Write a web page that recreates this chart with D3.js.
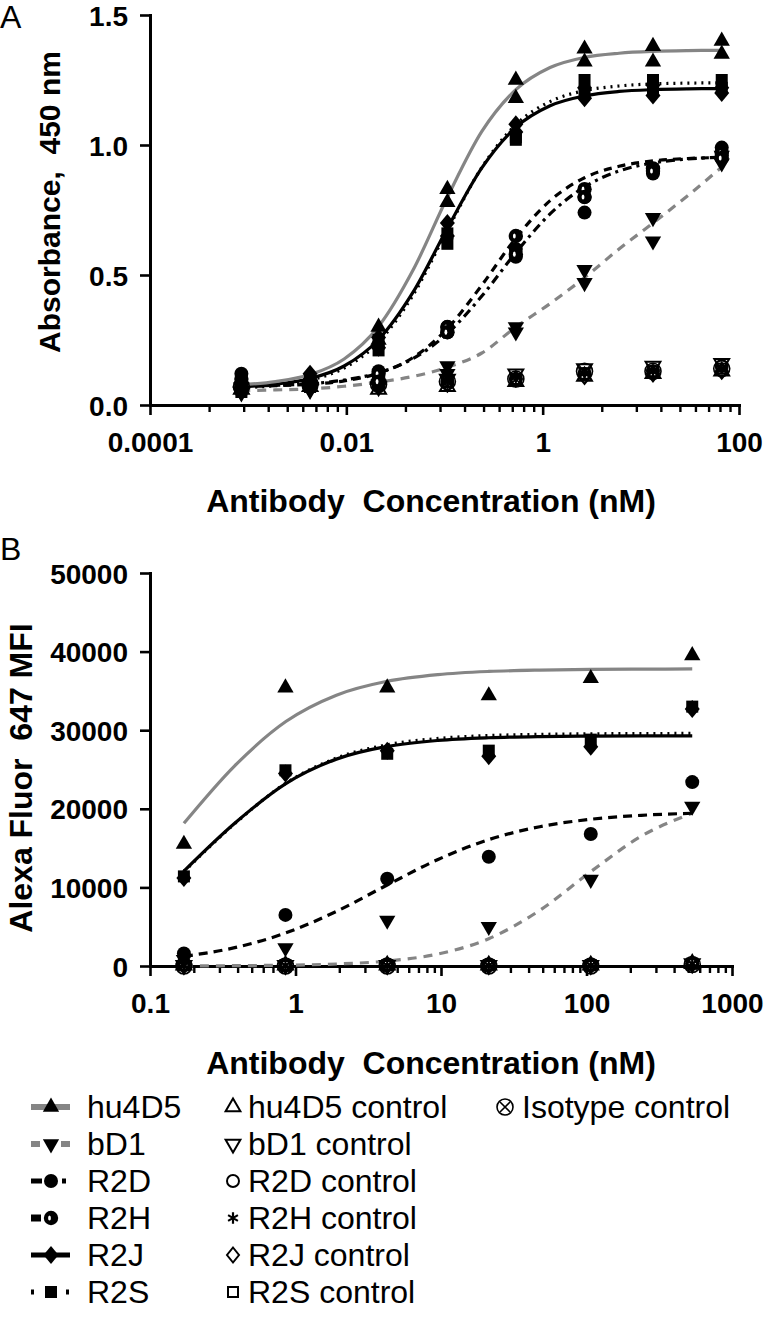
<!DOCTYPE html>
<html><head><meta charset="utf-8">
<script src="https://cdn.jsdelivr.net/npm/d3@7"></script>
<style>body{margin:0;background:#fff}svg{display:block}</style>
</head><body><svg id="c" width="766" height="1320"></svg>
<script>
// ---------- DATA ----------
// Panel A: ELISA, antibody concentration (nM)
const concA = [0.000853, 0.00427, 0.0213, 0.107, 0.533, 2.67, 13.3, 66.7];
const hu4D5_A1 = [0.10, 0.11, 0.30, 0.83, 1.25, 1.37, 1.38, 1.40];
const hu4D5_A2 = [0.06, 0.08, 0.25, 0.78, 1.18, 1.32, 1.32, 1.35];
const bD1_A1 = [0.07, 0.07, 0.08, 0.15, 0.30, 0.52, 0.72, 0.96];
const bD1_A2 = [0.05, 0.06, 0.07, 0.12, 0.28, 0.47, 0.63, 0.93];
const R2D_A1 = [0.12, 0.08, 0.13, 0.30, 0.60, 0.80, 0.90, 0.99];
const R2D_A2 = [0.08, 0.07, 0.10, 0.28, 0.57, 0.74, 0.89, 0.96];
const R2H_A1 = [0.10, 0.09, 0.12, 0.30, 0.65, 0.83, 0.91, 0.97];
const R2H_A2 = [0.07, 0.07, 0.09, 0.28, 0.58, 0.80, 0.90, 0.95];
const R2J_A1 = [0.08, 0.12, 0.26, 0.70, 1.08, 1.22, 1.23, 1.22];
const R2J_A2 = [0.06, 0.08, 0.22, 0.65, 1.05, 1.18, 1.19, 1.20];
const R2S_A1 = [0.07, 0.10, 0.25, 0.66, 1.03, 1.25, 1.25, 1.25];
const R2S_A2 = [0.05, 0.07, 0.21, 0.62, 1.02, 1.20, 1.21, 1.22];
const hu4D5ctl_A = [0.06, 0.07, 0.06, 0.07, 0.09, 0.11, 0.12, 0.13];
const bD1ctl_A = [0.05, 0.06, 0.07, 0.10, 0.12, 0.14, 0.15, 0.16];
const R2Dctl_A = [0.07, 0.08, 0.08, 0.09, 0.10, 0.12, 0.13, 0.15];
const R2Hctl_A = [0.07, 0.07, 0.08, 0.09, 0.11, 0.12, 0.13, 0.14];
const R2Jctl_A = [0.06, 0.07, 0.07, 0.08, 0.10, 0.11, 0.12, 0.13];
const R2Sctl_A = [0.06, 0.07, 0.08, 0.09, 0.10, 0.12, 0.13, 0.14];
const iso_A = [0.07, 0.08, 0.08, 0.09, 0.10, 0.13, 0.13, 0.14];
// Panel A fitted curves, read at these concentrations
const curveConcA = [0.00085, 0.0019, 0.0043, 0.0095, 0.0213, 0.048, 0.107, 0.24, 0.533, 1.19, 2.67, 6, 13.3, 30, 66.7];
const hu4D5_fitA = [0.078, 0.090, 0.117, 0.177, 0.302, 0.520, 0.799, 1.052, 1.213, 1.298, 1.337, 1.353, 1.360, 1.363, 1.364];
const bD1_fitA = [0.055, 0.058, 0.062, 0.072, 0.088, 0.110, 0.145, 0.200, 0.300, 0.390, 0.490, 0.600, 0.700, 0.805, 0.915];
const R2D_fitA = [0.073, 0.076, 0.082, 0.096, 0.124, 0.179, 0.275, 0.419, 0.586, 0.735, 0.839, 0.900, 0.931, 0.946, 0.953];
const R2H_fitA = [0.072, 0.074, 0.080, 0.093, 0.122, 0.183, 0.294, 0.461, 0.642, 0.786, 0.874, 0.918, 0.939, 0.948, 0.952];
const R2J_fitA = [0.071, 0.080, 0.102, 0.150, 0.252, 0.435, 0.680, 0.912, 1.068, 1.151, 1.189, 1.206, 1.213, 1.216, 1.217];
const R2S_fitA = [0.066, 0.075, 0.096, 0.142, 0.242, 0.424, 0.672, 0.914, 1.078, 1.167, 1.209, 1.227, 1.235, 1.238, 1.239];

// Panel B: flow cytometry MFI
const concB = [0.171, 0.853, 4.27, 21.3, 107, 533];
const hu4D5_B = [15500, 35400, 35400, 34400, 36600, 39500];
const bD1_B = [800, 2300, 5800, 5000, 11000, 20300];
const R2D_B = [1600, 6500, 11100, 13900, 16800, 23400];
const R2J_B = [11200, 24500, 27400, 26700, 27900, 32700];
const R2S_B = [11400, 24900, 27000, 27400, 28800, 33000];
const ctl_B = [100, 100, 100, 100, 100, 300];
const iso_B = [0, 0, 0, 0, 0, 200];
const curveConcB = [0.171, 0.382, 0.858, 1.91, 4.27, 9.54, 21.3, 47.7, 107, 238, 533];
const hu4D5_fitB = [18150, 25470, 31100, 34460, 36230, 37080, 37475, 37650, 37735, 37770, 37790];
const bD1_fitB = [16, 40, 102, 255, 631, 1524, 3474, 7073, 12002, 16513, 19444];
const R2D_fitB = [1232, 2333, 4208, 6946, 10305, 13557, 16080, 17720, 18668, 19172, 19434];
const R2J_fitB = [12070, 18160, 23210, 26320, 27940, 28700, 29040, 29190, 29250, 29280, 29290];
const R2S_fitB = [12000, 18100, 23250, 26450, 28150, 28950, 29320, 29470, 29540, 29570, 29590];

// Axes ticks
const yTicksA = [0, 0.5, 1.0, 1.5];
const yLabelsA = ["0.0", "0.5", "1.0", "1.5"];
const xTicksA = [0.0001, 0.01, 1, 100];
const xLabelsA = ["0.0001", "0.01", "1", "100"];
const yTicksB = [0, 10000, 20000, 30000, 40000, 50000];
const xTicksB = [0.1, 1, 10, 100, 1000];
const xLabelsB = ["0.1", "1", "10", "100", "1000"];

const legendMain = ["hu4D5", "bD1", "R2D", "R2H", "R2J", "R2S"];
const legendCtl = ["hu4D5 control", "bD1 control", "R2D control", "R2H control", "R2J control", "R2S control"];
const legendIso = "Isotype control";

// ---------- DRAWING ----------
const FONT = '"Liberation Sans", Arial, Helvetica, sans-serif';
const GRAY = "#858585";
const svg = d3.select("#c");

function symbolAt(g, shape, cx, cy) {
  const s = g.append("g").attr("transform", `translate(${cx},${cy})`);
  switch (shape) {
    case "triUp":
      s.append("path").attr("d", d3.symbol(d3.symbolTriangle, 115)()).attr("fill", "#000");
      break;
    case "triDown":
      s.append("path").attr("d", d3.symbol(d3.symbolTriangle, 115)()).attr("transform", "rotate(180)").attr("fill", "#000");
      break;
    case "circle":
      s.append("circle").attr("r", 7).attr("fill", "#000");
      break;
    case "circleH":
      s.append("circle").attr("r", 7.2).attr("fill", "#000");
      s.append("ellipse").attr("cx", -1.5).attr("rx", 1.4).attr("ry", 2.6).attr("fill", "#fff");
      break;
    case "diamond":
      s.append("path").attr("d", "M0,-9L7.5,0L0,9L-7.5,0Z").attr("fill", "#000");
      break;
    case "square":
      s.append("rect").attr("x", -6).attr("y", -6).attr("width", 12).attr("height", 12).attr("fill", "#000");
      break;
    case "oTriUp":
      s.append("path").attr("d", d3.symbol(d3.symbolTriangle, 95)()).attr("fill", "none").attr("stroke", "#000").attr("stroke-width", 2);
      break;
    case "oTriDown":
      s.append("path").attr("d", d3.symbol(d3.symbolTriangle, 95)()).attr("transform", "rotate(180)").attr("fill", "none").attr("stroke", "#000").attr("stroke-width", 2);
      break;
    case "oCircle":
      s.append("circle").attr("r", 6).attr("fill", "none").attr("stroke", "#000").attr("stroke-width", 2);
      break;
    case "asterisk":
      s.append("path").attr("d", d3.symbol(d3.symbolAsterisk, 90)()).attr("fill", "none").attr("stroke", "#000").attr("stroke-width", 2.2);
      break;
    case "oDiamond":
      s.append("path").attr("d", "M0,-7.5L6,0L0,7.5L-6,0Z").attr("fill", "none").attr("stroke", "#000").attr("stroke-width", 2);
      break;
    case "oSquare":
      s.append("rect").attr("x", -5).attr("y", -5).attr("width", 10).attr("height", 10).attr("fill", "none").attr("stroke", "#000").attr("stroke-width", 2);
      break;
    case "circleX":
      s.append("circle").attr("r", 8).attr("fill", "none").attr("stroke", "#000").attr("stroke-width", 1.6);
      s.append("path").attr("d", "M-5,-5L5,5M5,-5L-5,5").attr("stroke", "#000").attr("stroke-width", 1.6);
      break;
  }
}

function axisStyle(g) {
  g.attr("font-family", FONT).attr("font-size", 28).attr("font-weight", "bold");
  g.select(".domain").attr("stroke", "#000").attr("stroke-width", 3).attr("stroke-linecap", "square");
  g.selectAll(".tick line").attr("stroke", "#000").attr("stroke-width", 2.6);
  g.selectAll(".tick text").attr("fill", "#000");
}

function drawPanel(cfg) {
  const g = svg.append("g");
  const {x, y} = cfg;
  // y axis
  const ya = g.append("g").attr("transform", `translate(${x.range()[0]},0)`)
    .call(d3.axisLeft(y).tickValues(cfg.yTicks).tickSize(10).tickPadding(12).tickSizeOuter(0)
      .tickFormat((d, i) => cfg.yLabels[i]));
  axisStyle(ya);
  ya.selectAll(".tick text").attr("dy", "0.36em");
  // x axis major
  const xa = g.append("g").attr("transform", `translate(0,${y.range()[0]})`)
    .call(d3.axisBottom(x).tickValues(cfg.xTicks).tickSize(10).tickPadding(17).tickSizeOuter(0)
      .tickFormat((d, i) => cfg.xLabels[i]));
  axisStyle(xa);
  // x axis minor
  const xm = g.append("g").attr("transform", `translate(0,${y.range()[0]})`)
    .call(d3.axisBottom(x).tickValues(cfg.xMinor).tickSize(7).tickFormat(""));
  xm.select(".domain").remove();
  xm.selectAll(".tick line").attr("stroke", "#000").attr("stroke-width", 2.4);

  // curves
  const line = d3.line().x(d => x(d[0])).y(d => y(d[1])).curve(d3.curveMonotoneX);
  cfg.curves.forEach(c => {
    g.append("path").datum(cfg.curveX.map((cx, i) => [cx, c.v[i]]))
      .attr("d", line).attr("fill", "none").attr("stroke", c.color)
      .attr("stroke-width", c.w || 3.2).attr("stroke-dasharray", c.dash || null);
  });
  // points
  cfg.points.forEach(p => {
    cfg.conc.forEach((cx, i) => symbolAt(g, p.shape, x(cx), y(p.v[i])));
  });
  // titles
  g.append("text").attr("x", 431).attr("y", cfg.xTitleY).attr("text-anchor", "middle")
    .attr("font-family", FONT).attr("font-size", 32).attr("font-weight", "bold")
    .style("white-space", "pre").text("Antibody  Concentration (nM)");
  g.append("text").attr("transform", `translate(${cfg.yTitleX},${cfg.yTitleY}) rotate(-90)`)
    .attr("text-anchor", "middle").attr("font-family", FONT).attr("font-size", cfg.yTitleSize).attr("font-weight", "bold")
    .style("white-space", "pre").text(cfg.yTitle);
  g.append("text").attr("x", 0).attr("y", cfg.labelY).attr("font-family", FONT).attr("font-size", 32)
    .text(cfg.label);
}

const xA = d3.scaleLog().domain([1e-4, 100]).range([150, 739]);
const yA = d3.scaleLinear().domain([0, 1.5]).range([405, 15]);
const minorA = [];
xTicksA.slice(0, -1).forEach(m => { for (let k = 2; k <= 9; k++) minorA.push(m * k * k); });

drawPanel({
  x: xA, y: yA, yTicks: yTicksA, yLabels: yLabelsA, xTicks: xTicksA, xLabels: xLabelsA, xMinor: minorA,
  conc: concA, curveX: curveConcA,
  curves: [
    {v: bD1_fitA, color: GRAY, dash: "9,7"},
    {v: R2D_fitA, color: "#000", dash: "9,5,3,5"},
    {v: R2H_fitA, color: "#000", dash: "8,6"},
    {v: R2S_fitA, color: "#000", dash: "2,5"},
    {v: R2J_fitA, color: "#000"},
    {v: hu4D5_fitA, color: GRAY}
  ],
  points: [
    {shape: "oTriUp", v: hu4D5ctl_A}, {shape: "oTriDown", v: bD1ctl_A}, {shape: "oCircle", v: R2Dctl_A},
    {shape: "asterisk", v: R2Hctl_A}, {shape: "oDiamond", v: R2Jctl_A}, {shape: "oSquare", v: R2Sctl_A},
    {shape: "circleX", v: iso_A},
    {shape: "triDown", v: bD1_A1}, {shape: "triDown", v: bD1_A2},
    {shape: "circle", v: R2D_A1}, {shape: "circle", v: R2D_A2},
    {shape: "circleH", v: R2H_A1}, {shape: "circleH", v: R2H_A2},
    {shape: "square", v: R2S_A1}, {shape: "square", v: R2S_A2},
    {shape: "diamond", v: R2J_A1}, {shape: "diamond", v: R2J_A2},
    {shape: "triUp", v: hu4D5_A1}, {shape: "triUp", v: hu4D5_A2}
  ],
  xTitleY: 512, yTitle: "Absorbance,  450 nm", yTitleSize: 30, yTitleX: 60, yTitleY: 202, label: "A", labelY: 28
});

const xB = d3.scaleLog().domain([0.1, 1000]).range([150, 732]);
const yB = d3.scaleLinear().domain([0, 50000]).range([966, 573]);
const minorB = [];
xTicksB.slice(0, -1).forEach(m => { for (let k = 2; k <= 9; k++) minorB.push(m * k); });

drawPanel({
  x: xB, y: yB, yTicks: yTicksB, yLabels: yTicksB.map(String), xTicks: xTicksB, xLabels: xLabelsB, xMinor: minorB,
  conc: concB, curveX: curveConcB,
  curves: [
    {v: bD1_fitB, color: GRAY, dash: "9,7"},
    {v: R2D_fitB, color: "#000", dash: "9,6"},
    {v: R2S_fitB, color: "#000", dash: "2,5"},
    {v: R2J_fitB, color: "#000"},
    {v: hu4D5_fitB, color: GRAY}
  ],
  points: [
    {shape: "oTriUp", v: ctl_B}, {shape: "oTriDown", v: ctl_B}, {shape: "oCircle", v: ctl_B},
    {shape: "asterisk", v: ctl_B}, {shape: "oDiamond", v: ctl_B}, {shape: "oSquare", v: ctl_B},
    {shape: "circleX", v: iso_B},
    {shape: "triDown", v: bD1_B}, {shape: "circle", v: R2D_B},
    {shape: "square", v: R2S_B}, {shape: "diamond", v: R2J_B}, {shape: "triUp", v: hu4D5_B}
  ],
  xTitleY: 1074, yTitle: "Alexa Fluor  647 MFI", yTitleSize: 32, yTitleX: 32, yTitleY: 778, label: "B", labelY: 560
});

// ---------- LEGEND ----------
const lg = svg.append("g").attr("font-family", FONT).attr("font-size", 32);
const rowY = i => 1107 + i * 37;
const mainShapes = ["triUp", "triDown", "circle", "circleH", "diamond", "square"];
const ctlShapes = ["oTriUp", "oTriDown", "oCircle", "asterisk", "oDiamond", "oSquare"];
const legLines = [
  {color: GRAY, dash: null, w: 6},
  {color: GRAY, dash: "9,21,9", w: 6},
  {color: "#000", dash: "11,20,4", w: 5},
  {color: "#000", dash: "10,40", w: 7},
  {color: "#000", dash: null, w: 5},
  {color: "#000", dash: "3,32,3", w: 5}
];
legendMain.forEach((name, i) => {
  const yy = rowY(i);
  lg.append("line").attr("x1", 31).attr("x2", 70).attr("y1", yy).attr("y2", yy)
    .attr("stroke", legLines[i].color).attr("stroke-width", legLines[i].w)
    .attr("stroke-dasharray", legLines[i].dash);
  symbolAt(lg, mainShapes[i], 51, yy);
  lg.append("text").attr("x", 87).attr("y", yy + 11).text(name);
  symbolAt(lg, ctlShapes[i], 233, yy);
  lg.append("text").attr("x", 248).attr("y", yy + 11).text(legendCtl[i]);
});
symbolAt(lg, "circleX", 505, rowY(0));
lg.append("text").attr("x", 522).attr("y", rowY(0) + 11).text(legendIso);
</script></body></html>
